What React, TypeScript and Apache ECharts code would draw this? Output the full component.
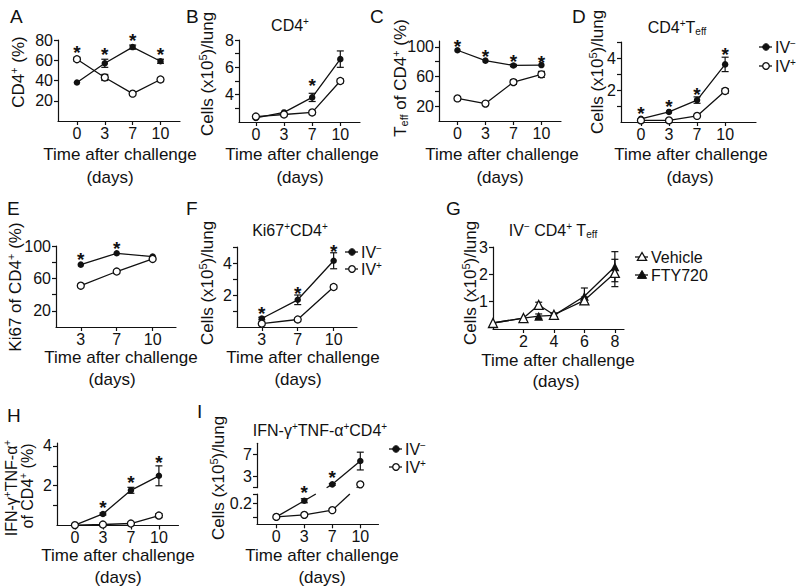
import React, { useEffect, useRef } from 'react';
import * as echarts from 'echarts';

const FONT = '"Liberation Sans", Arial, Helvetica, sans-serif';
const INK = '#111111';

// ---------------- data ----------------
const daysFour = ['0', '3', '7', '10'];
const daysThree = ['3', '7', '10'];
const daysG = [0, 2, 3, 4, 6, 8];
const idxFour = [0, 1, 2, 3];
const idxThree = [0, 1, 2];

// A: CD4+ (%)
const cd4PctIVneg = [38, 57, 73, 59];
const cd4PctIVnegErr = [0, 4, 2, 2];
const cd4PctIVpos = [61, 43, 27, 41];
const cd4PctIVposErr = [2, 3, 0, 2];
const cd4PctStars = [72, 70, 83, 70];

// B: CD4+ cells
const cd4CellsIVneg = [2.3, 2.7, 3.8, 6.6];
const cd4CellsIVnegErr = [0, 0, 0.3, 0.6];
const cd4CellsIVpos = [2.4, 2.55, 2.7, 5.0];
const cd4CellsIVposErr = [0, 0, 0, 0.15];
const cd4CellsStars = [null, null, 4.95, null];

// C: Teff of CD4+ (%)
const teffPctIVneg = [95.5, 81.5, 75, 75.5];
const teffPctIVnegErr = [0, 0, 1.5, 0];
const teffPctIVpos = [30.5, 23.5, 52.5, 63];
const teffPctIVposErr = [0, 0, 3, 4];
const teffPctStars = [106, 92, 86, 84];

// D: CD4+ Teff cells
const teffCellsIVneg = [0.2, 0.63, 1.37, 3.6];
const teffCellsIVnegErr = [0, 0, 0.2, 0.45];
const teffCellsIVpos = [0.1, 0.1, 0.38, 1.94];
const teffCellsIVposErr = [0, 0, 0, 0.15];
const teffCellsStars = [0.77, 1.2, 2.0, 4.47];

// E: Ki67 of CD4+ (%)
const ki67PctIVneg = [77, 91, 87];
const ki67PctIVpos = [51, 68.5, 84];
const ki67PctStars = [88, 101.5, null];

// F: Ki67+CD4+ cells
const ki67CellsIVneg = [0.53, 1.7, 4.14];
const ki67CellsIVnegErr = [0.08, 0.3, 0.5];
const ki67CellsIVpos = [0.21, 0.47, 2.5];
const ki67CellsIVposErr = [0, 0, 0.12];
const ki67CellsStars = [1.1, 2.36, 5.0];

// G: IV- CD4+ Teff, Vehicle vs FTY720
const vehicleCells = [0.22, 0.4, 0.88, 0.52, 1.05, 2.05];
const vehicleErr = [0, 0, 0.1, 0.07, 0.12, 0.5];
const ftyCells = [0.22, 0.4, 0.47, 0.5, 1.2, 2.28];
const ftyErr = [0, 0, 0.08, 0.05, 0.3, 0.55];

// H: IFN-g+TNF-a+ of CD4+ (%)
const ifnPctIVneg = [0.02, 0.58, 1.77, 2.5];
const ifnPctIVnegErr = [0, 0.05, 0.15, 0.5];
const ifnPctIVpos = [0.02, 0.05, 0.1, 0.5];
const ifnPctIVposErr = [0, 0, 0, 0.1];
const ifnPctStars = [null, 1.1, 2.37, 3.37];

// I: IFN-g+TNF-a+CD4+ cells (broken axis)
const ifnCellsIVneg = [0.1, 0.22, 1.6, 5.8];
const ifnCellsIVnegErr = [0, 0.015, 0.15, 1.6];
const ifnCellsIVpos = [0.1, 0.115, 0.15, 1.6];
const ifnCellsIVposErr = [0, 0, 0.012, 0.1];
const ifnCellsStars = [null, 0.9, 3.47, null]; // upper-segment scale

const I_LOWER_MAX = 0.27;
const I_UPPER_MIN = 1;

// ---------------- layout ----------------
const fmtFour = (v: number) => daysFour[Math.round(v)] ?? '';
const fmtThree = (v: number) => daysThree[Math.round(v)] ?? '';
const fmtNum = (v: number) => String(v);

const PANELS: any[] = [
  { grid: { left: 58, top: 40, width: 122, height: 81 }, xMin: -0.68, xMax: 3.7, xTicks: idxFour, xFmt: fmtFour, yMin: 0, yMax: 80, yTicks: [20, 40, 60, 80], yLabels: [20, 40, 60, 80] },
  { grid: { left: 239, top: 40, width: 121, height: 82 }, xMin: -0.6, xMax: 3.7, xTicks: idxFour, xFmt: fmtFour, yMin: 2, yMax: 8, yTicks: [3, 4, 5, 6, 7, 8], yLabels: [4, 6, 8] },
  { grid: { left: 439, top: 41, width: 122, height: 80 }, xMin: -0.66, xMax: 3.7, xTicks: idxFour, xFmt: fmtFour, yMin: 0, yMax: 108, yTicks: [20, 40, 60, 80, 100], yLabels: [20, 60, 100] },
  { grid: { left: 621, top: 42, width: 135, height: 80 }, xMin: -0.71, xMax: 4.1, xTicks: idxFour, xFmt: fmtFour, yMin: 0, yMax: 5, yTicks: [1, 2, 3, 4, 5], yLabels: [2, 4] },
  { grid: { left: 56, top: 246, width: 120, height: 81 }, xMin: -0.69, xMax: 2.65, xTicks: idxThree, xFmt: fmtThree, yMin: 0, yMax: 100, yTicks: [20, 40, 60, 80, 100], yLabels: [20, 60, 100] },
  { grid: { left: 237, top: 247, width: 120, height: 80 }, xMin: -0.69, xMax: 2.65, xTicks: idxThree, xFmt: fmtThree, yMin: 0, yMax: 5, yTicks: [1, 2, 3, 4, 5], yLabels: [2, 4] },
  { grid: { left: 493, top: 247, width: 131, height: 82 }, xMin: 0, xMax: 8.6, xTicks: [2, 4, 6, 8], xFmt: fmtNum, yMin: 0, yMax: 3, yTicks: [1, 2, 3], yLabels: [1, 2, 3] },
  { grid: { left: 57, top: 443, width: 121.5, height: 82.5 }, xMin: -0.64, xMax: 3.7, xTicks: idxFour, xFmt: fmtFour, yMin: 0, yMax: 4.15, yTicks: [1, 2, 3, 4], yLabels: [2, 4] },
  { grid: { left: 257, top: 494, width: 121.5, height: 30.3 }, xMin: -0.69, xMax: 3.65, xTicks: idxFour, xFmt: fmtFour, yMin: 0.045, yMax: I_LOWER_MAX, yTicks: [0.1, 0.2, I_LOWER_MAX], yLabels: [0.2] },
  { grid: { left: 257, top: 443.3, width: 121.5, height: 44.4 }, xMin: -0.69, xMax: 3.65, hideX: true, xTicks: idxFour, xFmt: fmtFour, yMin: I_UPPER_MIN, yMax: 9, yTicks: [I_UPPER_MIN, 3, 7], yLabels: [3, 7] },
];
const I_LOW = 8;
const I_UP = 9;

// ---------------- helpers ----------------
const richFor = (size: number) => ({
  sup: { fontSize: Math.round(size * 0.62), fontFamily: FONT, fill: INK, verticalAlign: 'top', lineHeight: Math.round(size * 0.55) },
  sub: { fontSize: Math.round(size * 0.62), fontFamily: FONT, fill: INK, verticalAlign: 'bottom', lineHeight: Math.round(size * 0.55) },
});

function T(text: string, x: number, y: number, size: number, opt: any = {}) {
  return {
    type: 'text', x, y, rotation: opt.rot ? Math.PI / 2 : 0, silent: true, z: 100,
    style: {
      text, fontSize: size, fontFamily: FONT, fill: INK,
      align: opt.align || 'center', verticalAlign: opt.v || 'middle',
      lineHeight: size + 2, rich: richFor(size),
    },
  };
}

function legendItem(mx: number, my: number, label: string, kind: string) {
  const children: any[] = [
    { type: 'line', shape: { x1: mx - 7, y1: my, x2: mx + 6, y2: my }, style: { stroke: INK, lineWidth: 1.3 } },
  ];
  const filled = kind === 'filled' || kind === 'triFilled';
  const st = filled ? { fill: INK, stroke: INK, lineWidth: 1 } : { fill: '#fff', stroke: INK, lineWidth: 1.3 };
  if (kind === 'filled' || kind === 'open') {
    children.push({ type: 'circle', shape: { cx: mx, cy: my, r: 3.3 }, style: st });
  } else {
    children.push({ type: 'polygon', shape: { points: [[mx, my - 4.5], [mx - 4.6, my + 3.4], [mx + 4.6, my + 3.4]] }, style: st });
  }
  children.push(T(label, mx + 9, my, 16, { align: 'left' }));
  return { type: 'group', silent: true, z: 100, children };
}

const renderErr = (params: any, api: any) => {
  const x = api.value(0);
  const lo = api.coord([x, api.value(1)]);
  const hi = api.coord([x, api.value(2)]);
  const w = 3.5;
  const s = { stroke: INK, lineWidth: 1.2 };
  return {
    type: 'group',
    children: [
      { type: 'line', shape: { x1: lo[0], y1: lo[1], x2: hi[0], y2: hi[1] }, style: s },
      { type: 'line', shape: { x1: lo[0] - w, y1: lo[1], x2: lo[0] + w, y2: lo[1] }, style: s },
      { type: 'line', shape: { x1: hi[0] - w, y1: hi[1], x2: hi[0] + w, y2: hi[1] }, style: s },
    ],
  };
};

const renderStar = (params: any, api: any) => {
  const p = api.coord([api.value(0), api.value(1)]);
  return {
    type: 'text', x: p[0], y: p[1] + 4,
    style: { text: '*', fontSize: 19, fontWeight: 'bold', fontFamily: FONT, fill: INK, align: 'center', verticalAlign: 'middle' },
  };
};

function lineSeries(idx: number, xs: number[], ys: any[], kind: string) {
  const filled = kind === 'filled' || kind === 'triFilled';
  const tri = kind === 'triFilled' || kind === 'triOpen';
  return {
    type: 'line', xAxisIndex: idx, yAxisIndex: idx,
    data: xs.map((x, i) => [x, ys[i] == null ? '-' : ys[i]]),
    symbol: tri ? 'triangle' : 'circle',
    symbolSize: tri ? 9 : filled ? 6.5 : 7,
    showSymbol: true, showAllSymbol: true, connectNulls: false,
    silent: true, z: filled ? 4 : 5,
    itemStyle: filled ? { color: INK, borderColor: INK, borderWidth: 0 } : { color: '#fff', borderColor: INK, borderWidth: 1.3 },
    lineStyle: { color: INK, width: 1.3 },
    emphasis: { disabled: true },
  };
}

function errSeries(idx: number, xs: number[], ys: number[], errs: number[], keep?: (v: number) => boolean) {
  const data = xs
    .map((x, i) => [x, ys[i] - errs[i], ys[i] + errs[i], i])
    .filter((d) => errs[d[3]] > 0 && (!keep || keep(ys[d[3]])))
    .map((d) => [d[0], d[1], d[2]]);
  return { type: 'custom', xAxisIndex: idx, yAxisIndex: idx, data, encode: { x: 0, y: [1, 2] }, silent: true, z: 3, renderItem: renderErr };
}

function starSeries(idx: number, xs: number[], stars: any[]) {
  const data = xs.map((x, i) => [x, stars[i]]).filter((d) => d[1] != null);
  return { type: 'custom', xAxisIndex: idx, yAxisIndex: idx, data, encode: { x: 0, y: 1 }, silent: true, z: 6, renderItem: renderStar };
}

function crossSeries(chart: any, xs: number[], ys: number[]) {
  const data: number[][] = [];
  for (let i = 0; i < xs.length - 1; i++) {
    if (ys[i] <= I_LOWER_MAX && ys[i + 1] >= I_UPPER_MIN) data.push([xs[i], ys[i], xs[i + 1], ys[i + 1]]);
  }
  return {
    type: 'custom', xAxisIndex: I_LOW, yAxisIndex: I_LOW, data, encode: { x: 0, y: 1 }, silent: true, z: 2,
    renderItem: (params: any, api: any) => {
      const p0 = api.coord([api.value(0), api.value(1)]);
      let p1: any, upBottom: number;
      try {
        p1 = chart.convertToPixel({ gridIndex: I_UP }, [api.value(2), api.value(3)]);
        upBottom = chart.convertToPixel({ gridIndex: I_UP }, [api.value(2), I_UPPER_MIN])[1];
      } catch (e) {
        return null;
      }
      if (!p1) return null;
      const lowTop = params.coordSys.y;
      const at = (yy: number) => {
        const t = (yy - p0[1]) / (p1[1] - p0[1]);
        return [p0[0] + t * (p1[0] - p0[0]), yy];
      };
      const a = at(lowTop);
      const b = at(upBottom);
      const s = { stroke: INK, lineWidth: 1.3 };
      return {
        type: 'group',
        children: [
          { type: 'line', shape: { x1: p0[0], y1: p0[1], x2: a[0], y2: a[1] }, style: s },
          { type: 'line', shape: { x1: b[0], y1: b[1], x2: p1[0], y2: p1[1] }, style: s },
        ],
      };
    },
  };
}

function buildOption(chart: any) {
  const axisLine = { show: true, onZero: false, lineStyle: { color: INK, width: 1.2 } };
  const tick = { show: true, length: 4, inside: false, lineStyle: { color: INK, width: 1.2 } };
  const lab = { color: INK, fontSize: 16, fontFamily: FONT, margin: 5 };

  const grids = PANELS.map((p) => ({ ...p.grid, containLabel: false, outerBoundsMode: 'none' }));
  const xAxes = PANELS.map((p, i) => ({
    type: 'value', gridIndex: i, min: p.xMin, max: p.xMax, show: !p.hideX,
    axisLine, axisTick: { ...tick, customValues: p.xTicks },
    axisLabel: { ...lab, margin: 4, customValues: p.xTicks, formatter: p.xFmt },
    splitLine: { show: false },
  }));
  const yAxes = PANELS.map((p, i) => ({
    type: 'value', gridIndex: i, min: p.yMin, max: p.yMax,
    axisLine, axisTick: { ...tick, customValues: p.yTicks },
    axisLabel: { ...lab, customValues: p.yLabels, formatter: fmtNum },
    splitLine: { show: false },
  }));

  const lowOnly = (v: number) => v <= I_LOWER_MAX;
  const upOnly = (v: number) => v >= I_UPPER_MIN;

  const series: any[] = [
    // A
    lineSeries(0, idxFour, cd4PctIVneg, 'filled'), lineSeries(0, idxFour, cd4PctIVpos, 'open'),
    errSeries(0, idxFour, cd4PctIVneg, cd4PctIVnegErr), errSeries(0, idxFour, cd4PctIVpos, cd4PctIVposErr),
    starSeries(0, idxFour, cd4PctStars),
    // B
    lineSeries(1, idxFour, cd4CellsIVneg, 'filled'), lineSeries(1, idxFour, cd4CellsIVpos, 'open'),
    errSeries(1, idxFour, cd4CellsIVneg, cd4CellsIVnegErr), errSeries(1, idxFour, cd4CellsIVpos, cd4CellsIVposErr),
    starSeries(1, idxFour, cd4CellsStars),
    // C
    lineSeries(2, idxFour, teffPctIVneg, 'filled'), lineSeries(2, idxFour, teffPctIVpos, 'open'),
    errSeries(2, idxFour, teffPctIVneg, teffPctIVnegErr), errSeries(2, idxFour, teffPctIVpos, teffPctIVposErr),
    starSeries(2, idxFour, teffPctStars),
    // D
    lineSeries(3, idxFour, teffCellsIVneg, 'filled'), lineSeries(3, idxFour, teffCellsIVpos, 'open'),
    errSeries(3, idxFour, teffCellsIVneg, teffCellsIVnegErr), errSeries(3, idxFour, teffCellsIVpos, teffCellsIVposErr),
    starSeries(3, idxFour, teffCellsStars),
    // E
    lineSeries(4, idxThree, ki67PctIVneg, 'filled'), lineSeries(4, idxThree, ki67PctIVpos, 'open'),
    starSeries(4, idxThree, ki67PctStars),
    // F
    lineSeries(5, idxThree, ki67CellsIVneg, 'filled'), lineSeries(5, idxThree, ki67CellsIVpos, 'open'),
    errSeries(5, idxThree, ki67CellsIVneg, ki67CellsIVnegErr), errSeries(5, idxThree, ki67CellsIVpos, ki67CellsIVposErr),
    starSeries(5, idxThree, ki67CellsStars),
    // G
    lineSeries(6, daysG, ftyCells, 'triFilled'), lineSeries(6, daysG, vehicleCells, 'triOpen'),
    errSeries(6, daysG, ftyCells, ftyErr), errSeries(6, daysG, vehicleCells, vehicleErr),
    // H
    lineSeries(7, idxFour, ifnPctIVneg, 'filled'), lineSeries(7, idxFour, ifnPctIVpos, 'open'),
    errSeries(7, idxFour, ifnPctIVneg, ifnPctIVnegErr), errSeries(7, idxFour, ifnPctIVpos, ifnPctIVposErr),
    starSeries(7, idxFour, ifnPctStars),
    // I lower segment
    lineSeries(I_LOW, idxFour, ifnCellsIVneg.map((v) => (lowOnly(v) ? v : null)), 'filled'),
    lineSeries(I_LOW, idxFour, ifnCellsIVpos.map((v) => (lowOnly(v) ? v : null)), 'open'),
    errSeries(I_LOW, idxFour, ifnCellsIVneg, ifnCellsIVnegErr, lowOnly),
    errSeries(I_LOW, idxFour, ifnCellsIVpos, ifnCellsIVposErr, lowOnly),
    crossSeries(chart, idxFour, ifnCellsIVneg),
    crossSeries(chart, idxFour, ifnCellsIVpos),
    // I upper segment
    lineSeries(I_UP, idxFour, ifnCellsIVneg.map((v) => (upOnly(v) ? v : null)), 'filled'),
    lineSeries(I_UP, idxFour, ifnCellsIVpos.map((v) => (upOnly(v) ? v : null)), 'open'),
    errSeries(I_UP, idxFour, ifnCellsIVneg, ifnCellsIVnegErr, upOnly),
    errSeries(I_UP, idxFour, ifnCellsIVpos, ifnCellsIVposErr, upOnly),
    starSeries(I_UP, idxFour, ifnCellsStars),
  ];

  const TIME = 'Time after challenge';
  const DAYS = '(days)';
  const CELLS = 'Cells (x10{sup|5})/lung';
  const graphics: any[] = [
    // panel letters
    T('A', 10, 6, 19, { align: 'left', v: 'top' }),
    T('B', 186, 6, 19, { align: 'left', v: 'top' }),
    T('C', 370, 6, 19, { align: 'left', v: 'top' }),
    T('D', 572, 6, 19, { align: 'left', v: 'top' }),
    T('E', 7, 198, 19, { align: 'left', v: 'top' }),
    T('F', 186, 198, 19, { align: 'left', v: 'top' }),
    T('G', 446, 198, 19, { align: 'left', v: 'top' }),
    T('H', 7, 405, 19, { align: 'left', v: 'top' }),
    T('I', 197, 401, 19, { align: 'left', v: 'top' }),
    // titles
    T('CD4{sup|+}', 290, 25, 16),
    T('CD4{sup|+}T{sub|eff}', 677, 27, 16),
    T('Ki67{sup|+}CD4{sup|+}', 290, 230, 16),
    T('IV{sup|−} CD4{sup|+} T{sub|eff}', 553, 230, 16),
    T('IFN-γ{sup|+}TNF-α{sup|+}CD4{sup|+}', 320, 430, 16),
    // y names
    T('CD4{sup|+} (%)', 18, 72, 17, { rot: true }),
    T(CELLS, 207, 74, 17, { rot: true }),
    T('T{sub|eff} of CD4{sup|+} (%)', 400, 78, 17, { rot: true }),
    T(CELLS, 597, 72, 17, { rot: true }),
    T('Ki67 of CD4{sup|+} (%)', 15, 287, 17, { rot: true }),
    T(CELLS, 207, 283, 17, { rot: true }),
    T(CELLS, 470, 283, 17, { rot: true }),
    T('IFN-γ{sup|+}TNF-α{sup|+}', 11, 488, 16, { rot: true }),
    T('of CD4{sup|+} (%)', 27, 486, 16, { rot: true }),
    T(CELLS, 218, 478, 17, { rot: true }),
    // x names
    T(TIME, 120, 154, 17), T(DAYS, 110, 177, 17),
    T(TIME, 302, 154, 17), T(DAYS, 300, 177, 17),
    T(TIME, 502, 154, 17), T(DAYS, 500, 177, 17),
    T(TIME, 691, 154, 17), T(DAYS, 690, 177, 17),
    T(TIME, 121, 357, 17), T(DAYS, 112, 379, 17),
    T(TIME, 303, 357, 17), T(DAYS, 298, 379, 17),
    T(TIME, 558, 360, 17), T(DAYS, 556, 381, 17),
    T(TIME, 118, 555, 17), T(DAYS, 118, 577, 17),
    T(TIME, 322, 555, 17), T(DAYS, 322, 577, 17),
    // legends
    legendItem(766, 47, 'IV{sup|−}', 'filled'),
    legendItem(766, 66, 'IV{sup|+}', 'open'),
    legendItem(352, 252, 'IV{sup|−}', 'filled'),
    legendItem(352, 269, 'IV{sup|+}', 'open'),
    legendItem(396, 449, 'IV{sup|−}', 'filled'),
    legendItem(396, 467, 'IV{sup|+}', 'open'),
    legendItem(642, 257, 'Vehicle', 'triOpen'),
    legendItem(642, 275, 'FTY720', 'triFilled'),
  ];

  return {
    animation: false,
    backgroundColor: '#ffffff',
    textStyle: { fontFamily: FONT },
    grid: grids,
    xAxis: xAxes,
    yAxis: yAxes,
    series,
    graphic: { elements: graphics },
  };
}

export default function App() {
  const ref = useRef<HTMLDivElement>(null);
  useEffect(() => {
    if (!ref.current) return;
    const chart = echarts.init(ref.current, null, { renderer: 'svg' });
    chart.setOption(buildOption(chart) as any);
    return () => chart.dispose();
  }, []);
  return (
    <div
      ref={ref}
      style={{ position: 'fixed', left: 0, top: 0, width: 800, height: 587, background: '#fff' }}
    />
  );
}
